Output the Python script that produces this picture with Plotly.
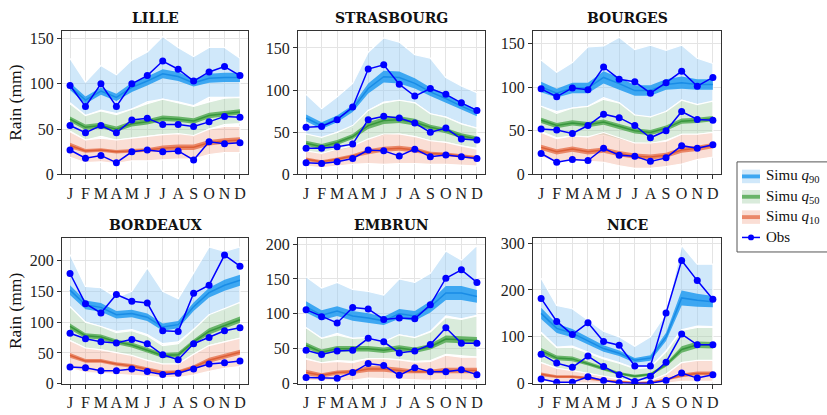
import plotly.graph_objects as go

MONTHS = [1, 2, 3, 4, 5, 6, 7, 8, 9, 10, 11, 12]
MONTH_LABELS = ["J", "F", "M", "A", "M", "J", "J", "A", "S", "O", "N", "D"]
CITIES = ["LILLE", "STRASBOURG", "BOURGES", "BORDEAUX", "EMBRUN", "NICE"]

# ---------------- LILLE ----------------
LILLE_OBS90 = [98, 75, 100, 75, 100, 109, 125, 116, 103, 113, 119, 109]
LILLE_MID90 = [97, 82, 92, 85, 96, 103, 111, 108, 101, 106, 107, 107]
LILLE_W90 = [4, 4, 4, 4, 5, 5, 5, 5, 4, 5, 5, 5]
LILLE_HI90 = [128, 102, 120, 110, 126, 135, 152, 140, 130, 140, 140, 128]
LILLE_LO90 = [79, 65, 71, 67, 72, 80, 83, 80, 76, 85, 85, 85]
LILLE_OBS50 = [54, 46, 54, 46, 60, 62, 55, 55, 53, 58, 64, 63]
LILLE_MID50 = [61, 52, 54, 50, 56, 58, 62, 61, 59, 65, 67, 69]
LILLE_W50 = [3, 3, 3, 3, 3, 3, 3, 3, 3, 3, 3, 3]
LILLE_HI50 = [78, 65, 70, 66, 72, 78, 83, 79, 75, 80, 84, 85]
LILLE_LO50 = [48, 38, 42, 38, 40, 42, 44, 44, 42, 50, 55, 56]
LILLE_OBS10 = [27, 18, 21, 13, 25, 27, 25, 26, 16, 36, 34, 35]
LILLE_MID10 = [32, 26, 27, 25, 26, 27, 29, 30, 30, 35, 37, 38]
LILLE_W10 = [3, 2, 2, 2, 2, 2, 3, 3, 3, 3, 3, 3]
LILLE_HI10 = [47, 38, 40, 38, 40, 42, 44, 45, 43, 50, 53, 53]
LILLE_LO10 = [19, 13, 14, 12, 15, 15, 16, 17, 17, 22, 24, 24]

# ---------------- STRASBOURG ----------------
STRAS_OBS90 = [56, 57, 65, 80, 125, 130, 107, 93, 102, 95, 85, 76]
STRAS_MID90 = [67, 58, 66, 78, 102, 116, 115, 108, 98, 90, 81, 73]
STRAS_W90 = [4, 4, 4, 4, 6, 7, 7, 6, 5, 5, 4, 4]
STRAS_HI90 = [95, 78, 92, 108, 145, 162, 157, 142, 138, 115, 105, 97]
STRAS_LO90 = [48, 43, 50, 56, 76, 86, 88, 85, 72, 68, 60, 55]
STRAS_OBS50 = [31, 31, 33, 36, 65, 69, 67, 61, 50, 55, 42, 41]
STRAS_MID50 = [37, 33, 38, 45, 58, 64, 65, 62, 56, 52, 46, 42]
STRAS_W50 = [3, 3, 3, 3, 4, 4, 4, 4, 3, 3, 3, 3]
STRAS_HI50 = [48, 44, 50, 58, 76, 85, 88, 85, 72, 68, 60, 55]
STRAS_LO50 = [27, 24, 28, 32, 42, 46, 48, 45, 40, 38, 34, 31]
STRAS_OBS10 = [14, 13, 15, 19, 29, 28, 22, 30, 21, 23, 21, 19]
STRAS_MID10 = [18, 15, 18, 22, 27, 30, 31, 29, 25, 24, 22, 20]
STRAS_W10 = [2, 2, 2, 2, 3, 3, 3, 3, 2, 2, 2, 2]
STRAS_HI10 = [28, 25, 30, 34, 42, 48, 48, 45, 40, 38, 34, 30]
STRAS_LO10 = [10, 8, 10, 12, 13, 12, 13, 13, 12, 12, 11, 10]

# ---------------- BOURGES ----------------
BOUR_OBS90 = [98, 89, 99, 97, 123, 109, 106, 93, 105, 118, 101, 111]
BOUR_MID90 = [100, 93, 99, 99, 111, 104, 96, 96, 103, 105, 103, 103]
BOUR_W90 = [6, 5, 6, 6, 7, 7, 6, 6, 6, 7, 6, 6]
BOUR_HI90 = [131, 117, 128, 146, 147, 157, 143, 148, 142, 148, 133, 127]
BOUR_LO90 = [78, 72, 76, 78, 88, 82, 68, 65, 72, 85, 80, 83]
BOUR_OBS50 = [52, 51, 47, 56, 69, 65, 56, 42, 50, 72, 63, 62]
BOUR_MID50 = [62, 56, 59, 57, 60, 55, 50, 48, 53, 61, 62, 64]
BOUR_W50 = [3, 3, 3, 3, 3, 3, 3, 3, 3, 3, 3, 3]
BOUR_HI50 = [78, 70, 76, 78, 86, 82, 68, 66, 72, 85, 80, 84]
BOUR_LO50 = [49, 42, 44, 43, 45, 40, 36, 35, 39, 46, 46, 48]
BOUR_OBS10 = [24, 14, 17, 16, 30, 22, 21, 15, 19, 33, 30, 34]
BOUR_MID10 = [31, 26, 29, 26, 28, 24, 21, 20, 22, 28, 30, 33]
BOUR_W10 = [3, 3, 3, 3, 3, 3, 3, 3, 3, 3, 3, 3]
BOUR_HI10 = [48, 41, 44, 43, 48, 42, 36, 36, 38, 46, 46, 48]
BOUR_LO10 = [20, 14, 15, 15, 14, 10, 7, 7, 9, 12, 17, 20]

# ---------------- BORDEAUX ----------------
BORD_OBS90 = [179, 130, 115, 145, 134, 131, 86, 85, 147, 160, 209, 191]
BORD_MID90 = [152, 128, 124, 112, 114, 108, 92, 96, 125, 148, 160, 168]
BORD_W90 = [8, 7, 7, 6, 6, 6, 6, 6, 7, 8, 9, 9]
BORD_HI90 = [210, 158, 156, 140, 150, 188, 150, 138, 180, 222, 215, 222]
BORD_LO90 = [125, 100, 93, 85, 88, 80, 65, 68, 88, 110, 120, 132]
BORD_OBS50 = [82, 73, 68, 66, 72, 65, 47, 39, 65, 75, 86, 91]
BORD_MID50 = [93, 78, 76, 68, 63, 55, 46, 47, 68, 85, 95, 104]
BORD_W50 = [5, 4, 4, 4, 4, 4, 4, 4, 4, 5, 5, 5]
BORD_HI50 = [125, 100, 93, 83, 86, 78, 62, 65, 88, 112, 122, 132]
BORD_LO50 = [70, 58, 55, 50, 45, 38, 32, 32, 48, 62, 68, 74]
BORD_OBS10 = [27, 26, 21, 21, 24, 20, 15, 17, 24, 32, 34, 37]
BORD_MID10 = [46, 37, 37, 32, 29, 24, 18, 19, 27, 38, 45, 51]
BORD_W10 = [4, 3, 3, 3, 3, 3, 3, 3, 3, 4, 4, 4]
BORD_HI10 = [70, 58, 55, 50, 46, 38, 32, 32, 48, 62, 68, 74]
BORD_LO10 = [25, 18, 17, 16, 14, 12, 10, 10, 14, 20, 25, 28]

# ---------------- EMBRUN ----------------
EMBR_OBS90 = [106, 96, 87, 109, 107, 92, 94, 93, 113, 151, 163, 145]
EMBR_MID90 = [110, 98, 104, 97, 94, 90, 100, 97, 110, 130, 130, 125]
EMBR_W90 = [8, 7, 7, 7, 7, 6, 7, 7, 8, 10, 10, 9]
EMBR_HI90 = [153, 137, 145, 135, 132, 127, 150, 145, 158, 190, 177, 198]
EMBR_LO90 = [80, 65, 72, 65, 66, 60, 70, 66, 75, 97, 93, 98]
EMBR_OBS50 = [48, 42, 47, 48, 65, 60, 44, 47, 56, 80, 58, 58]
EMBR_MID50 = [55, 45, 50, 50, 50, 48, 51, 48, 53, 64, 63, 62]
EMBR_W50 = [4, 4, 4, 4, 4, 4, 4, 4, 4, 5, 5, 5]
EMBR_HI50 = [80, 65, 70, 65, 66, 60, 70, 66, 74, 95, 92, 97]
EMBR_LO50 = [36, 30, 33, 32, 36, 36, 34, 32, 33, 42, 40, 38]
EMBR_OBS10 = [9, 9, 8, 16, 29, 26, 12, 23, 17, 17, 20, 13]
EMBR_MID10 = [16, 12, 16, 17, 21, 21, 19, 17, 17, 19, 19, 19]
EMBR_W10 = [4, 3, 3, 3, 4, 4, 4, 3, 3, 4, 4, 4]
EMBR_HI10 = [35, 30, 32, 30, 36, 36, 34, 31, 32, 41, 38, 38]
EMBR_LO10 = [5, 4, 4, 5, 8, 8, 6, 6, 5, 6, 6, 5]

# ---------------- NICE ----------------
NICE_OBS90 = [182, 133, 105, 130, 90, 82, 38, 38, 151, 263, 220, 180]
NICE_MID90 = [150, 118, 108, 92, 75, 65, 50, 55, 100, 183, 178, 175]
NICE_W90 = [12, 10, 9, 8, 7, 6, 5, 6, 9, 16, 14, 12]
NICE_HI90 = [225, 167, 160, 135, 112, 100, 80, 100, 150, 295, 255, 255]
NICE_LO90 = [110, 78, 80, 68, 55, 45, 33, 35, 70, 115, 123, 122]
NICE_OBS50 = [63, 44, 35, 59, 37, 19, 5, 16, 46, 106, 83, 83]
NICE_MID50 = [70, 55, 53, 43, 32, 22, 16, 20, 40, 73, 83, 82]
NICE_W50 = [6, 5, 5, 4, 4, 3, 3, 3, 4, 7, 7, 7]
NICE_HI50 = [108, 77, 78, 66, 53, 44, 32, 35, 68, 114, 120, 120]
NICE_LO50 = [45, 33, 28, 22, 15, 10, 5, 7, 20, 45, 48, 48]
NICE_OBS10 = [10, 3, 3, 15, 7, 2, 1, 1, 7, 23, 12, 19]
NICE_MID10 = [20, 15, 15, 12, 7, 4, 2, 3, 9, 18, 22, 22]
NICE_W10 = [4, 3, 3, 3, 2, 2, 1, 1, 2, 4, 4, 4]
NICE_HI10 = [45, 33, 28, 22, 15, 10, 5, 7, 20, 45, 50, 50]
NICE_LO10 = [5, 2, 2, 2, 1, 0, 0, 0, 1, 5, 5, 5]

Y_RANGES = [[0, 158], [0, 170], [0, 164], [0, 236], [0, 208], [0, 310]]
Y_TICKS = [[0, 50, 100, 150], [0, 50, 100, 150], [0, 50, 100, 150],
           [0, 50, 100, 150, 200], [0, 50, 100, 150, 200], [0, 100, 200, 300]]

DATA = {
    "LILLE": [(LILLE_OBS90, LILLE_MID90, LILLE_W90, LILLE_HI90, LILLE_LO90),
              (LILLE_OBS50, LILLE_MID50, LILLE_W50, LILLE_HI50, LILLE_LO50),
              (LILLE_OBS10, LILLE_MID10, LILLE_W10, LILLE_HI10, LILLE_LO10)],
    "STRASBOURG": [(STRAS_OBS90, STRAS_MID90, STRAS_W90, STRAS_HI90, STRAS_LO90),
                   (STRAS_OBS50, STRAS_MID50, STRAS_W50, STRAS_HI50, STRAS_LO50),
                   (STRAS_OBS10, STRAS_MID10, STRAS_W10, STRAS_HI10, STRAS_LO10)],
    "BOURGES": [(BOUR_OBS90, BOUR_MID90, BOUR_W90, BOUR_HI90, BOUR_LO90),
                (BOUR_OBS50, BOUR_MID50, BOUR_W50, BOUR_HI50, BOUR_LO50),
                (BOUR_OBS10, BOUR_MID10, BOUR_W10, BOUR_HI10, BOUR_LO10)],
    "BORDEAUX": [(BORD_OBS90, BORD_MID90, BORD_W90, BORD_HI90, BORD_LO90),
                 (BORD_OBS50, BORD_MID50, BORD_W50, BORD_HI50, BORD_LO50),
                 (BORD_OBS10, BORD_MID10, BORD_W10, BORD_HI10, BORD_LO10)],
    "EMBRUN": [(EMBR_OBS90, EMBR_MID90, EMBR_W90, EMBR_HI90, EMBR_LO90),
               (EMBR_OBS50, EMBR_MID50, EMBR_W50, EMBR_HI50, EMBR_LO50),
               (EMBR_OBS10, EMBR_MID10, EMBR_W10, EMBR_HI10, EMBR_LO10)],
    "NICE": [(NICE_OBS90, NICE_MID90, NICE_W90, NICE_HI90, NICE_LO90),
             (NICE_OBS50, NICE_MID50, NICE_W50, NICE_HI50, NICE_LO50),
             (NICE_OBS10, NICE_MID10, NICE_W10, NICE_HI10, NICE_LO10)],
}

# styles: (light band, inner band, centre line)
STYLES = [
    ("rgba(150,205,245,0.45)", "rgba(35,155,240,0.85)", "rgb(25,140,230)"),
    ("rgba(160,205,165,0.40)", "rgba(85,170,85,0.85)", "rgb(55,150,60)"),
    ("rgba(240,160,135,0.35)", "rgba(230,120,85,0.85)", "rgb(220,95,55)"),
]
OBS_COLOR = "#0000ff"
FONT = "Liberation Serif, DejaVu Serif, serif"
TITLE_FONT = "DejaVu Serif, Liberation Serif, serif"

W, H = 827, 415
X_PIX = [(62, 248), (298, 485), (533, 721)]
Y_PIX = [(28, 176), (242, 392)]

fig = go.Figure()
layout = {}
for i, city in enumerate(CITIES):
    row, col = divmod(i, 3)
    n = i + 1
    xa = "x" if n == 1 else f"x{n}"
    ya = "y" if n == 1 else f"y{n}"
    series = DATA[city]
    # outer bands
    for k, (obs, mid, w, hi, lo) in enumerate(series):
        light, inner, line = STYLES[k]
        fig.add_trace(go.Scatter(
            x=MONTHS + MONTHS[::-1], y=hi + lo[::-1], fill="toself",
            fillcolor=light, line=dict(color="white", width=1.2),
            mode="lines", hoverinfo="skip", showlegend=False, xaxis=xa, yaxis=ya))
    # inner bands + centre lines
    for k, (obs, mid, w, hi, lo) in enumerate(series):
        light, inner, line = STYLES[k]
        up = [m + d for m, d in zip(mid, w)]
        dn = [m - d for m, d in zip(mid, w)]
        fig.add_trace(go.Scatter(
            x=MONTHS + MONTHS[::-1], y=up + dn[::-1], fill="toself",
            fillcolor=inner, line=dict(width=0), mode="lines",
            hoverinfo="skip", showlegend=False, xaxis=xa, yaxis=ya))
        fig.add_trace(go.Scatter(
            x=MONTHS, y=mid, mode="lines", line=dict(color=line, width=1.5),
            showlegend=False, xaxis=xa, yaxis=ya))
    # observations
    for k, (obs, mid, w, hi, lo) in enumerate(series):
        fig.add_trace(go.Scatter(
            x=MONTHS, y=obs, mode="lines+markers",
            line=dict(color=OBS_COLOR, width=1.5),
            marker=dict(color=OBS_COLOR, size=7),
            showlegend=False, xaxis=xa, yaxis=ya))

    x0, x1 = X_PIX[col]
    y0, y1 = Y_PIX[row]
    axis_common = dict(showline=True, mirror=True, linecolor="#333333", linewidth=1,
                       ticks="outside", ticklen=4, tickcolor="#333333",
                       showgrid=True, gridcolor="#e4e4e4", gridwidth=1,
                       zeroline=False, tickfont=dict(family=FONT, size=16, color="#222"))
    layout["xaxis" if n == 1 else f"xaxis{n}"] = dict(
        domain=[x0 / W, x1 / W], anchor=ya, range=[0.48, 12.52],
        tickmode="array", tickvals=MONTHS, ticktext=MONTH_LABELS, **axis_common)
    layout["yaxis" if n == 1 else f"yaxis{n}"] = dict(
        domain=[1 - y1 / H, 1 - y0 / H], anchor=xa, range=Y_RANGES[i],
        tickmode="array", tickvals=Y_TICKS[i], **axis_common)

annotations = []
for i, city in enumerate(CITIES):
    row, col = divmod(i, 3)
    x0, x1 = X_PIX[col]
    ty = 14 if row == 0 else 228
    annotations.append(dict(text=f"<b>{city}</b>", x=(x0 + x1) / 2 / W, y=1 - ty / H,
                            xref="paper", yref="paper", showarrow=False,
                            xanchor="center", yanchor="middle",
                            font=dict(family=TITLE_FONT, size=14, color="#111")))
for row in range(2):
    y0, y1 = Y_PIX[row]
    annotations.append(dict(text="Rain (mm)", x=15 / W, y=1 - (y0 + y1) / 2 / H,
                            xref="paper", yref="paper", showarrow=False, textangle=-90,
                            xanchor="center", yanchor="middle",
                            font=dict(family=FONT, size=17.5, color="#111")))

# custom legend
shapes = []
LX0, LY0, LX1, LY1 = 737, 163, 830, 256
shapes.append(dict(type="rect", xref="paper", yref="paper",
                   x0=LX0 / W, x1=LX1 / W, y0=1 - LY1 / H, y1=1 - LY0 / H,
                   line=dict(color="#555", width=1), fillcolor="white", layer="above"))
leg_labels = ["Simu <i>q</i><sub>90</sub>", "Simu <i>q</i><sub>50</sub>",
              "Simu <i>q</i><sub>10</sub>", "Obs"]
leg_y = [178, 199, 220, 241]
for k in range(4):
    yc = leg_y[k]
    if k < 3:
        light, inner, line = STYLES[k]
        shapes.append(dict(type="rect", xref="paper", yref="paper",
                           x0=742 / W, x1=760 / W, y0=1 - (yc + 7) / H, y1=1 - (yc - 7) / H,
                           line=dict(width=0), fillcolor=light, layer="above"))
        shapes.append(dict(type="rect", xref="paper", yref="paper",
                           x0=742 / W, x1=760 / W, y0=1 - (yc + 2) / H, y1=1 - (yc - 2) / H,
                           line=dict(width=0), fillcolor=inner, layer="above"))
    else:
        shapes.append(dict(type="line", xref="paper", yref="paper",
                           x0=742 / W, x1=760 / W, y0=1 - yc / H, y1=1 - yc / H,
                           line=dict(color=OBS_COLOR, width=1.5), layer="above"))
        shapes.append(dict(type="circle", xref="paper", yref="paper",
                           x0=748 / W, x1=754 / W, y0=1 - (yc + 3) / H, y1=1 - (yc - 3) / H,
                           line=dict(width=0), fillcolor=OBS_COLOR, layer="above"))
    annotations.append(dict(text=leg_labels[k], x=764 / W, y=1 - yc / H,
                            xref="paper", yref="paper", showarrow=False,
                            xanchor="left", yanchor="middle",
                            font=dict(family=FONT, size=15, color="#111")))

fig.update_layout(**layout)
fig.update_layout(width=W, height=H, margin=dict(l=0, r=0, t=0, b=0),
                  paper_bgcolor="white", plot_bgcolor="white",
                  annotations=annotations, shapes=shapes, showlegend=False)
fig.write_html("out.html")
